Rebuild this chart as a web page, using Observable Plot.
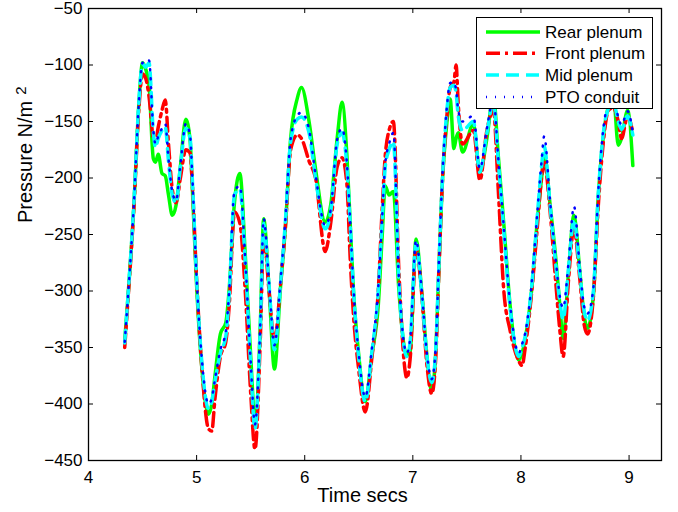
<!DOCTYPE html>
<html><head><meta charset="utf-8">
<script src="https://cdn.jsdelivr.net/npm/d3@7"></script>
<script src="https://cdn.jsdelivr.net/npm/@observablehq/plot@0.6"></script>
<style>
body{margin:0;background:#fff;}
#wrap{position:relative;width:678px;height:512px;font-family:"Liberation Sans",Arial,sans-serif;}
#legend{position:absolute;left:476px;top:17px;width:177px;height:92px;box-sizing:border-box;border:1.5px solid #000;background:#fff;}
</style></head><body><div id="wrap"></div>
<script>
const seriesNames = ["Rear plenum", "Front plenum", "Mid plenum", "PTO conduit"];
const xTicks = [4, 5, 6, 7, 8, 9];
const yTicks = [-450, -400, -350, -300, -250, -200, -150, -100, -50];
const time = [4.335,4.36,4.42,4.465,4.50,4.53,4.56,4.60,4.62,4.645,4.68,4.71,4.74,4.775,4.81,4.85,4.90,4.94,4.96,5.00,
5.05,5.11,5.14,5.17,5.22,5.27,5.30,5.35,5.40,5.45,5.50,5.54,5.59,5.62,5.67,5.72,5.775,5.82,5.87,5.93,
5.97,6.04,6.10,6.19,6.24,6.30,6.345,6.39,6.42,6.45,6.50,6.56,6.62,6.68,6.715,6.745,6.78,6.82,6.87,6.945,
6.975,7.03,7.08,7.13,7.175,7.21,7.24,7.27,7.315,7.345,7.38,7.40,7.42,7.46,7.56,7.62,7.685,7.745,7.79,7.84,
7.90,7.98,8.01,8.04,8.10,8.15,8.19,8.215,8.27,8.32,8.36,8.39,8.44,8.49,8.545,8.585,8.615,8.67,8.715,8.76,
8.81,8.855,8.90,8.93,8.987,9.035];
const rear = [-344,-312,-224,-136,-98,-104,-118,-183,-186,-179,-196,-198,-215,-233,-224,-190,-148,-167,-208,-295,
-370,-409,-400,-375,-338,-328,-300,-222,-196,-268,-357,-414,-328,-236,-298,-369,-298,-245,-165,-130,
-120,-150,-192,-239,-224,-165,-133,-180,-239,-298,-357,-398,-357,-313,-254,-207,-215,-212,-298,-357,
-354,-254,-298,-357,-389,-357,-283,-210,-151,-130,-174,-165,-160,-177,-152,-195,-165,-127,-180,-239,
-313,-361,-355,-342,-298,-239,-201,-180,-224,-269,-313,-342,-283,-233,-283,-322,-333,-304,-217,-165,
-136,-127,-171,-165,-140,-189];
const front = [-350,-315,-226,-140,-108,-112,-128,-165,-168,-155,-140,-131,-170,-210,-222,-200,-175,-178,-205,-290,
-370,-422,-424,-395,-358,-345,-315,-230,-240,-300,-390,-440,-340,-250,-300,-345,-295,-245,-175,-162,
-165,-185,-200,-265,-240,-190,-182,-205,-270,-320,-370,-407,-360,-300,-230,-180,-158,-150,-280,-377,
-360,-262,-300,-365,-391,-362,-285,-210,-145,-120,-115,-100,-135,-170,-158,-202,-158,-140,-210,-298,
-335,-362,-366,-350,-300,-245,-200,-186,-230,-290,-335,-358,-290,-245,-290,-330,-338,-305,-225,-170,
-140,-138,-150,-165,-145,-160];
const mid = [-346,-312,-222,-134,-99,-102,-98,-160,-173,-165,-158,-155,-185,-215,-222,-190,-156,-165,-200,-290,
-365,-404,-398,-380,-355,-340,-305,-215,-210,-275,-365,-422,-330,-240,-295,-352,-295,-240,-168,-148,
-146,-160,-200,-245,-230,-170,-160,-190,-240,-298,-360,-398,-355,-300,-240,-190,-175,-168,-290,-358,
-345,-258,-300,-358,-381,-355,-280,-208,-140,-120,-118,-125,-145,-158,-150,-195,-160,-133,-185,-245,
-315,-358,-350,-340,-295,-235,-190,-172,-225,-275,-310,-325,-280,-237,-285,-318,-326,-300,-215,-162,
-138,-133,-150,-157,-145,-162];
const pto = [-345,-312,-222,-134,-98,-99,-96,-158,-170,-163,-156,-152,-183,-212,-220,-188,-152,-163,-198,-288,
-362,-400,-395,-378,-352,-336,-302,-212,-207,-272,-362,-418,-326,-236,-292,-348,-292,-238,-165,-145,
-142,-157,-197,-242,-228,-166,-156,-187,-237,-295,-356,-394,-352,-297,-237,-187,-170,-160,-287,-355,
-342,-255,-297,-355,-378,-352,-277,-205,-137,-116,-115,-122,-140,-150,-145,-192,-156,-130,-182,-242,
-312,-355,-347,-337,-292,-232,-186,-163,-221,-270,-305,-315,-275,-225,-280,-314,-320,-297,-212,-158,
-134,-130,-146,-153,-141,-160];

const values = [rear, front, mid, pto];
const styles = {
  "Rear plenum":  {stroke: "#00ff00", width: 3.5, dash: null},
  "Front plenum": {stroke: "#ff0000", width: 3.5, dash: "14,5,3,5"},
  "Mid plenum":   {stroke: "#00ffff", width: 3.5, dash: "13,7"},
  "PTO conduit":  {stroke: "#0000ff", width: 2.5, dash: "1,8"}
};
const rows = [];
seriesNames.forEach((s, i) => time.forEach((t, j) => rows.push({t, v: values[i][j], s})));
const xDomain = [4, 9.3], yDomain = [-450, -50];
// inward tick length: 5px expressed in data units of each scale (frame 573 x 452 px)
const tx = 5 * (xDomain[1] - xDomain[0]) / 573;
const ty = 5 * (yDomain[1] - yDomain[0]) / 452;

const chart = Plot.plot({
  width: 678, height: 512,
  marginLeft: 88, marginRight: 17, marginTop: 8, marginBottom: 52,
  style: {fontFamily: "'Liberation Sans', Arial, sans-serif", fontSize: "17px", background: "#fff", color: "#000"},
  x: {domain: xDomain},
  y: {domain: yDomain},
  marks: [
    ...seriesNames.map(s => Plot.line(rows.filter(r => r.s === s), {
      x: "t", y: "v", stroke: styles[s].stroke, strokeWidth: styles[s].width,
      strokeDasharray: styles[s].dash, curve: "monotone-x"
    })),
    Plot.ruleX(xTicks, {x: d => d, y1: yDomain[0], y2: yDomain[0] + ty, stroke: "#000"}),
    Plot.ruleX(xTicks, {x: d => d, y1: yDomain[1] - ty, y2: yDomain[1], stroke: "#000"}),
    Plot.ruleY(yTicks, {y: d => d, x1: xDomain[0], x2: xDomain[0] + tx, stroke: "#000"}),
    Plot.ruleY(yTicks, {y: d => d, x1: xDomain[1] - tx, x2: xDomain[1], stroke: "#000"}),
    Plot.frame({stroke: "#000", strokeWidth: 1.3}),
    Plot.axisX({ticks: xTicks, tickSize: 0, tickPadding: 10, tickFormat: d3.format("d"), label: null, fontSize: 17}),
    Plot.axisY({ticks: yTicks, tickSize: 0, tickPadding: 6, tickFormat: d3.format("d"), label: null, fontSize: 17}),
    Plot.text(["Time secs"], {frameAnchor: "bottom", dx: -12.5, dy: 41, fontSize: 20, fill: "#000"}),
    Plot.text(["Pressure N/m"], {frameAnchor: "left", dx: -62.5, dy: -11.5, rotate: -90, fontSize: 20, fill: "#000", ariaLabel: "ylabel"})
  ]
});
document.getElementById("wrap").appendChild(chart);
let yl = d3.select(chart).select('text[aria-label="ylabel"]');
if (yl.empty()) yl = d3.select(chart).selectAll("text").filter(function(){ return this.textContent === "Pressure N/m"; });
yl.append("tspan").attr("dx", 6).attr("dy", "-0.45em").attr("font-size", 15).text("2");

// legend
const leg = d3.select("#wrap").append("div").attr("id", "legend");
const lsvg = leg.append("svg").attr("width", 174).attr("height", 89);
const rowY = [14, 35.3, 57, 79];
seriesNames.forEach((s, i) => {
  lsvg.append("line").attr("x1", 9).attr("x2", 63).attr("y1", rowY[i]).attr("y2", rowY[i])
    .attr("stroke", styles[s].stroke).attr("stroke-width", styles[s].width)
    .attr("stroke-dasharray", styles[s].dash);
  lsvg.append("text").attr("x", 68).attr("y", rowY[i]).attr("dominant-baseline", "central")
    .attr("font-size", 17).attr("font-family", "'Liberation Sans', Arial, sans-serif").text(s);
});
</script>
</body></html>
